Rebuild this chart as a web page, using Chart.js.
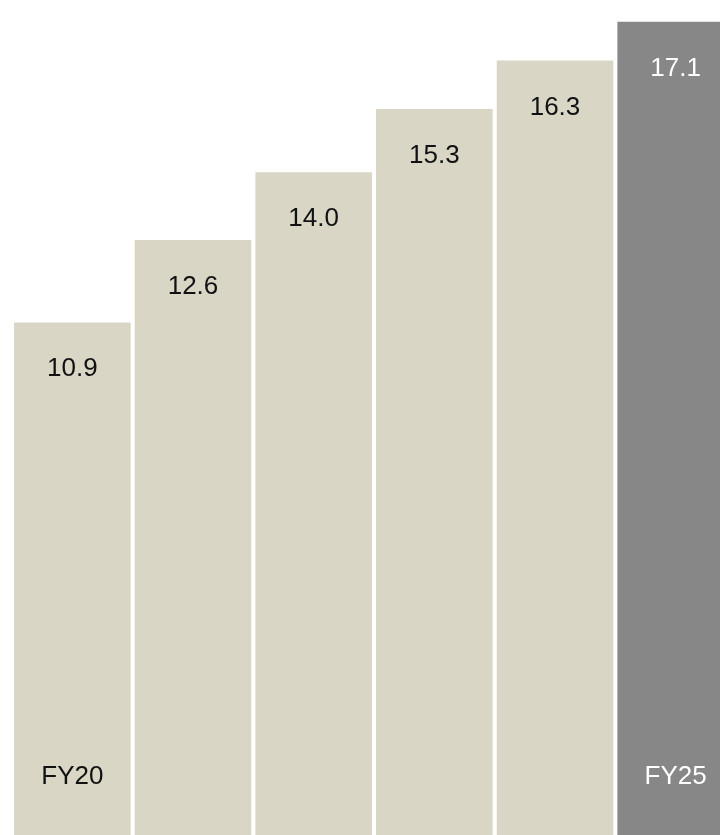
<!DOCTYPE html>
<html>
<head>
<meta charset="utf-8">
<script src="https://cdn.jsdelivr.net/npm/chart.js@4"></script>
<style>
    html, body {
        margin: 0;
        padding: 0;
        background: #ffffff;
    }

    #wrap {
        width: 720px;
        height: 835px;
        overflow: hidden;
        position: relative;
    }
</style>
</head>
<body>
<div id="wrap">
    <canvas id="graficoAnual" width="736" height="851"></canvas>
</div>

<script>
const anos = ['FY20', 'FY21', 'FY22', 'FY23', 'FY24', 'FY25'];
const valores = [10.9, 12.6, 14.0, 15.3, 16.3, 17.1];
const anosRotulados = ['FY20', 'FY25'];

const corBarra = '#d9d6c6';
const corDestaque = '#878787';
const ultimo = valores.length - 1;

// rótulos de valor no topo de cada barra e ano perto da base
const rotulos = {
    id: 'rotulos',
    afterDatasetsDraw(chart) {
        const c = chart.ctx;
        const meta = chart.getDatasetMeta(0);
        const base = chart.chartArea.bottom;

        c.save();
        c.font = '26px "Liberation Sans", Arial, Helvetica, sans-serif';
        c.textAlign = 'center';
        c.textBaseline = 'alphabetic';

        meta.data.forEach((barra, i) => {
            c.fillStyle = i === ultimo ? '#ffffff' : '#111111';
            c.fillText(valores[i].toFixed(1), barra.x, barra.y + 54);

            if (anosRotulados.includes(anos[i])) {
                c.fillText(anos[i], barra.x, base - 67);
            }
        });

        c.restore();
    }
};

const ctx = document.getElementById('graficoAnual');

new Chart(ctx, {
    type: 'bar',

    data: {
        labels: anos,

        datasets: [{
            data: valores,

            backgroundColor: (c) => c.dataIndex === ultimo ? corDestaque : corBarra,

            borderWidth: 0,
            barPercentage: 1,
            categoryPercentage: 0.966
        }]
    },

    options: {

        responsive: false,

        animation: false,

        layout: {
            padding: { left: 12, right: 0, top: 0, bottom: 0 }
        },

        plugins: {
            legend: { display: false },
            tooltip: { enabled: false }
        },

        scales: {
            x: {
                display: false
            },

            y: {
                display: false,
                min: 0,
                max: 17.55
            }
        }
    },

    plugins: [rotulos]
});
</script>
</body>
</html>
